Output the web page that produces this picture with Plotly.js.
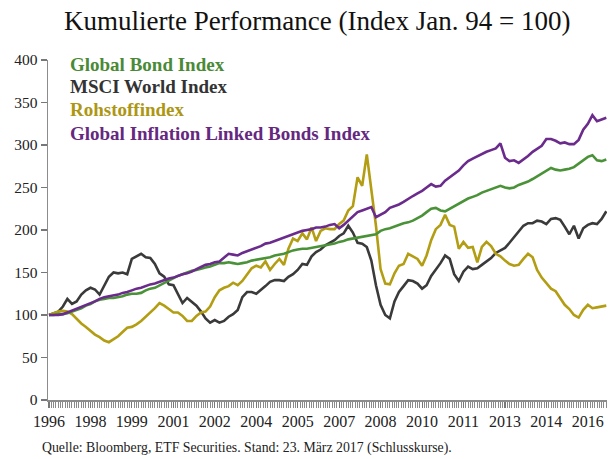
<!DOCTYPE html>
<html>
<head>
<meta charset="utf-8">
<script src="https://cdn.plot.ly/plotly-3.0.1.min.js"></script>
<style>html,body{margin:0;padding:0;background:#fff}#chart{width:609px;height:459px}</style>
</head>
<body>
<div id="chart"></div>
<script>
// Bi-monthly observations starting July 1996
const startYear = 1996, startMonth = 7, stepMonths = 2;

const globalBond = [100,100,101,101,102,104,106,108,111,113,116,118,119,120,120,121,122,124,125,125,
126,129,131,132,135,138,141,144,146,148,150,152,153,155,156,157,159,161,161,162,
161,160,161,162,164,165,166,167,168,170,171,172,174,176,177,178,178,179,180,181,
182,183,184,186,187,189,190,191,192,193,194,195,199,201,202,204,206,208,209,211,
214,217,221,225,226,223,222,225,228,231,234,237,239,241,244,246,248,250,252,250,
249,250,253,255,257,260,263,266,270,273,271,270,271,272,274,278,283,286,288,282,281,283];

const msciWorld = [100,102,104,110,119,113,116,124,129,132,130,124,135,145,150,149,150,148,166,169,
172,168,167,160,149,145,136,135,125,114,120,116,111,104,96,91,94,91,93,98,
101,106,121,127,127,125,129,134,139,141,141,140,145,148,153,160,159,169,174,177,
182,185,188,193,196,205,197,185,184,180,164,135,112,100,96,116,127,134,141,140,
137,131,135,146,153,161,170,166,148,140,151,157,154,155,159,163,167,173,176,179,
185,192,198,205,208,208,211,210,207,213,214,212,204,195,205,190,202,206,208,207,213,222];

const rohstoff = [100,102,104,105,104,101,95,90,86,81,77,74,70,68,71,75,80,85,86,89,
93,98,102,108,114,111,107,103,103,99,93,93,99,103,104,110,121,129,132,134,
138,135,140,148,155,158,156,163,153,160,166,159,178,190,187,196,189,203,187,199,
202,201,201,207,211,223,228,262,252,289,250,205,154,137,136,149,158,160,172,169,
166,158,170,188,201,206,218,206,204,178,186,179,180,162,180,186,181,172,169,164,
160,158,159,166,172,168,153,144,137,131,128,119,112,107,100,97,106,112,108,109,110,111];

const inflationLinked = [100,100,100,101,103,105,107,109,112,114,116,119,121,122,123,124,126,127,129,131,
132,134,136,137,139,141,143,144,146,148,149,151,154,157,159,160,162,163,167,172,
171,170,173,175,177,179,181,184,185,187,189,191,193,195,197,199,200,201,203,203,
204,206,207,202,206,211,215,221,223,225,227,215,218,221,226,228,230,233,237,240,
243,246,250,254,251,252,258,262,266,270,276,281,284,287,290,292,294,296,302,285,
281,282,279,283,287,292,295,299,307,307,305,302,303,301,301,306,318,325,335,328,330,332];

// Axis labels: one every 18 months from July 1996 (1996, 1998, 1999, 2001, ...)
const labelStart = '1996-07-01', labelStep = 'M18', minorStep = 'M1';

const seriesNames = ['Global Bond Index','MSCI World Index','Rohstoffindex','Global Inflation Linked Bonds Index'];
const lineColors = ['#4a9238','#3a3a3a','#b39d12','#6b2b8c'];
const textColors = ['#4a8a36','#333333','#ad9614','#65287f'];

function dates(n){
  const out=[];
  for(let i=0;i<n;i++){
    const m0=(startMonth-1)+i*stepMonths;
    const y=startYear+Math.floor(m0/12), m=(m0%12)+1;
    out.push(y+'-'+String(m).padStart(2,'0')+'-01');
  }
  return out;
}
const x = dates(globalBond.length);

function tr(vals, idx){
  return {x:x, y:vals, type:'scatter', mode:'lines', name:seriesNames[idx],
    line:{color:lineColors[idx], width:2.6}, showlegend:false, hoverinfo:'skip'};
}
const data=[tr(msciWorld,1), tr(rohstoff,2), tr(globalBond,0), tr(inflationLinked,3)];

const serif='"Liberation Serif", "DejaVu Serif", serif';
const legY=[0.988,0.921,0.853,0.785];
const annotations = seriesNames.map((n,i)=>({
  text:'<b>'+n+'</b>', xref:'paper', yref:'paper', x:0.036, y:legY[i], xanchor:'left', yanchor:'middle',
  showarrow:false, font:{family:serif, size:19, color:textColors[i]}
}));
annotations.push({text:'Quelle: Bloomberg, ETF Securities. Stand: 23. März 2017 (Schlusskurse).',
  xref:'paper', yref:'paper', x:-0.014, y:-0.141, xanchor:'left', yanchor:'middle', showarrow:false,
  font:{family:serif, size:13.8, color:'#222'}});

const layout={
  width:609, height:459,
  margin:{l:48, r:2, t:60, b:59},
  paper_bgcolor:'#fff', plot_bgcolor:'#fff',
  title:{text:'Kumulierte Performance (Index Jan. 94 = 100)', x:0.521, xanchor:'center', y:0.956, yanchor:'middle',
    font:{family:serif, size:27, color:'#111'}},
  xaxis:{type:'date', range:['1996-06-18','2016-09-10'],
    tickmode:'linear', tick0:labelStart, dtick:labelStep, tickformat:'%Y',
    showgrid:false, zeroline:false, showline:true, linecolor:'#8c8c8c', linewidth:1.5,
    ticks:'outside', ticklen:6, tickcolor:'#777777', tickwidth:1.2,
    minor:{tick0:labelStart, dtick:minorStep, ticks:'outside', ticklen:6, tickcolor:'#8a8a8a', tickwidth:1, showgrid:false},
    tickfont:{family:serif, size:16, color:'#222'}, fixedrange:true},
  yaxis:{range:[0,400], tickvals:[0,50,100,150,200,250,300,350,400],
    showgrid:false, zeroline:false, showline:true, linecolor:'#8c8c8c', linewidth:1.5,
    ticks:'outside', ticklen:6, tickcolor:'#777777', tickwidth:1.2,
    tickfont:{family:serif, size:15.5, color:'#222'}, fixedrange:true},
  annotations:annotations
};
Plotly.newPlot('chart', data, layout, {displayModeBar:false, staticPlot:true});
</script>
</body>
</html>
